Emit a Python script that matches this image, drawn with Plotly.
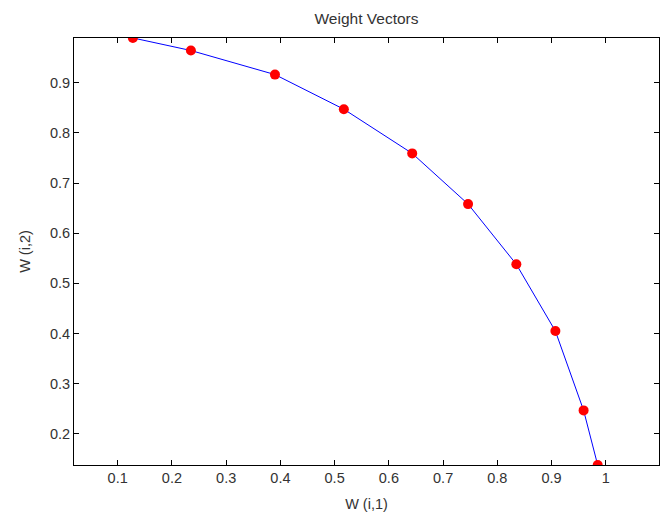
import plotly.graph_objects as go

w1 = [0.128, 0.235, 0.390, 0.517, 0.643, 0.746, 0.835, 0.907, 0.959, 0.985]
w2 = [0.989, 0.964, 0.916, 0.847, 0.759, 0.658, 0.538, 0.405, 0.247, 0.138]
x_ticks = [0.1, 0.2, 0.3, 0.4, 0.5, 0.6, 0.7, 0.8, 0.9, 1.0]
x_tick_labels = ["0.1", "0.2", "0.3", "0.4", "0.5", "0.6", "0.7", "0.8", "0.9", "1"]
y_ticks = [0.2, 0.3, 0.4, 0.5, 0.6, 0.7, 0.8, 0.9]
y_tick_labels = ["0.2", "0.3", "0.4", "0.5", "0.6", "0.7", "0.8", "0.9"]

FONT = "Liberation Sans, Arial"
TXT = "#333333"

fig = go.Figure()
fig.add_trace(go.Scatter(x=w1, y=w2, mode="lines", line=dict(color="#0000ff", width=1), hoverinfo="skip"))
fig.add_trace(go.Scatter(x=w1, y=w2, mode="markers", marker=dict(color="#ff0000", size=10, line=dict(width=0))))

axis_common = dict(
    showgrid=False, zeroline=False, showline=True, linecolor="#000000", linewidth=1,
    mirror="ticks", ticks="inside", ticklen=5, tickcolor="#000000", tickwidth=1,
    tickfont=dict(family=FONT, size=14.5, color=TXT), automargin=False,
)

fig.update_layout(
    width=667, height=515,
    margin=dict(l=74, r=8, t=38, b=50, autoexpand=False),
    paper_bgcolor="white", plot_bgcolor="white",
    showlegend=False,
    title=dict(text="Weight Vectors", x=0.5, xanchor="center", xref="paper", y=0.963, yref="container",
               yanchor="middle", automargin=False,
               font=dict(family=FONT, size=15.5, color=TXT)),
    xaxis=dict(range=[0.0195, 1.098], tickvals=x_ticks, ticktext=x_tick_labels,
               title=dict(text="W (i,1)", standoff=13, font=dict(family=FONT, size=14.5, color=TXT)),
               **axis_common),
    yaxis=dict(range=[0.1382, 0.9889], tickvals=y_ticks, ticktext=y_tick_labels,
               title=dict(text="W (i,2)", standoff=15, font=dict(family=FONT, size=14.5, color=TXT)),
               **axis_common),
)

fig.write_html("out.html", config={"displayModeBar": False},
               post_script="document.body.style.margin='0';")
